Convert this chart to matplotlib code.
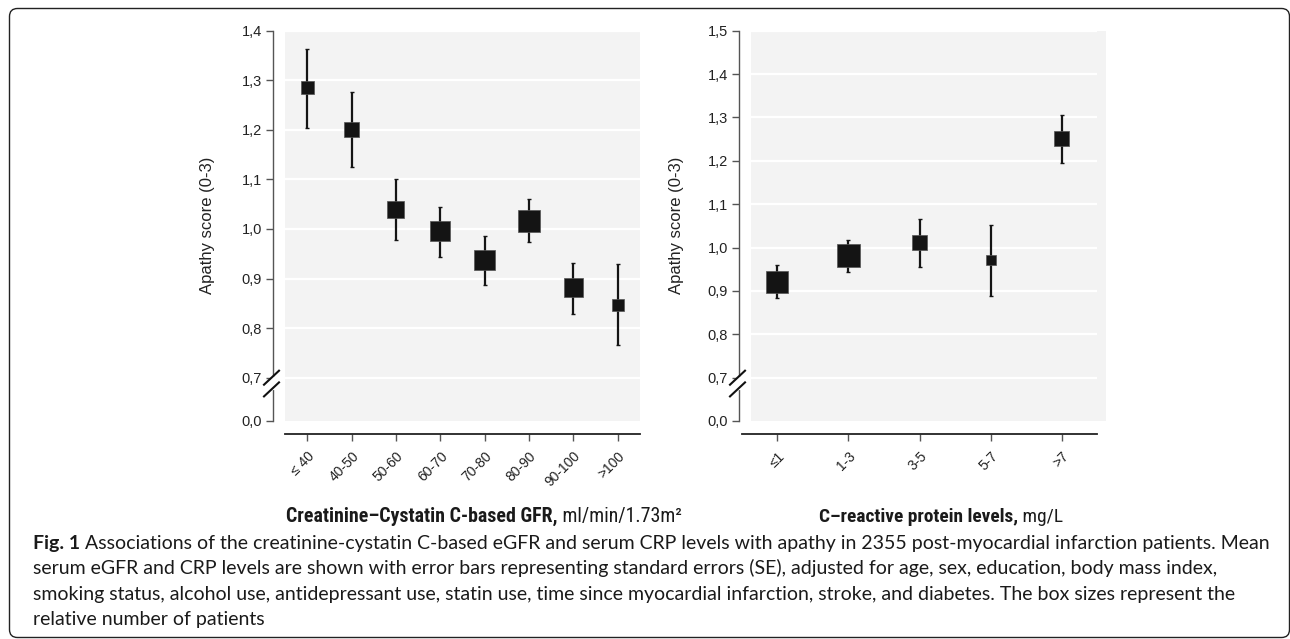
import numpy as np
import matplotlib
matplotlib.use('Agg')
import matplotlib.pyplot as plt
from matplotlib import font_manager as fm
from matplotlib.patches import FancyBboxPatch
from matplotlib.lines import Line2D
from matplotlib.transforms import IdentityTransform

# ---------------- data ----------------
gfr_labels = ['≤ 40', '40-50', '50-60', '60-70', '70-80', '80-90', '90-100', '>100']
gfr_mean = [1.285, 1.200, 1.039, 0.995, 0.937, 1.016, 0.882, 0.847]
gfr_upper = [1.363, 1.277, 1.101, 1.045, 0.986, 1.061, 0.931, 0.929]
gfr_lower = [1.203, 1.125, 0.977, 0.944, 0.887, 0.973, 0.828, 0.766]
gfr_boxsize = [13.0, 15.0, 17.0, 20.0, 20.5, 22.5, 19.5, 12.5]   # relative number of patients

crp_labels = ['≤1', '1-3', '3-5', '5-7', '>7']
crp_mean = [0.921, 0.982, 1.012, 0.971, 1.252]
crp_upper = [0.959, 1.017, 1.066, 1.051, 1.305]
crp_lower = [0.883, 0.944, 0.955, 0.888, 1.194]
crp_boxsize = [22.0, 22.5, 14.5, 10.0, 15.0]

gfr_yticks = [0.0, 0.7, 0.8, 0.9, 1.0, 1.1, 1.2, 1.3, 1.4]
crp_yticks = [0.0, 0.7, 0.8, 0.9, 1.0, 1.1, 1.2, 1.3, 1.4, 1.5]

ylabel_text = 'Apathy score (0-3)'
gfr_title = ('Creatinine–Cystatin C-based GFR,', ' ml/min/1.73m²')
crp_title = ('C–reactive protein levels,', ' mg/L')
caption_bold = 'Fig. 1'
caption_lines = [
    ' Associations of the creatinine-cystatin C-based eGFR and serum CRP levels with apathy in 2355 post-myocardial infarction patients. Mean',
    'serum eGFR and CRP levels are shown with error bars representing standard errors (SE), adjusted for age, sex, education, body mass index,',
    'smoking status, alcohol use, antidepressant use, statin use, time since myocardial infarction, stroke, and diabetes. The box sizes represent the',
    'relative number of patients',
]

# ---------------- fonts ----------------
names = {f.name for f in fm.fontManager.ttflist}
base_font = 'Liberation Sans' if 'Liberation Sans' in names else 'DejaVu Sans'
cond_font = next((n for n in ['Liberation Sans Narrow', 'Roboto Condensed', 'Open Sans Condensed',
                              'Noto Sans Condensed', 'DejaVu Sans Condensed'] if n in names), base_font)
cap_font = 'Lato' if 'Lato' in names else base_font
plt.rcParams['font.family'] = [base_font, 'DejaVu Sans']

W, H = 1290, 639
fig = plt.figure(figsize=(W / 100, H / 100), dpi=100)
fig.patch.set_facecolor('white')

def px_axes(x0, x1, ytop, ybot):
    return fig.add_axes([x0 / W, 1 - ybot / H, (x1 - x0) / W, (ybot - ytop) / H])

GAP_PX = 43.0
AX_TOP, AX_BOT = 30.7, 420.7

def broken_scale(top, low=0.0, brk=0.7):
    span_px = AX_BOT - AX_TOP
    s = (span_px - GAP_PX) / (top - brk)
    k = (GAP_PX / s) / (brk - low)
    def fwd(y):
        y = np.asarray(y, float)
        return np.where(y >= brk, y, brk - (brk - y) * k)
    def inv(z):
        z = np.asarray(z, float)
        return np.where(z >= brk, z, brk - (brk - z) / k)
    return fwd, inv

def style_panel(ax, labels, mean, lower, upper, boxsize, yticks, xlim, spine_bounds, ylabel_x):
    n = len(labels)
    x = np.arange(n)
    top = yticks[-1]
    ax.set_yscale('function', functions=broken_scale(top))
    ax.set_ylim(0.0, top)
    ax.set_xlim(*xlim)
    ax.set_facecolor('#f3f3f3')
    for s in ['top', 'right']:
        ax.spines[s].set_visible(False)
    ax.spines['left'].set_position(('outward', 12 * 0.72))
    ax.spines['bottom'].set_position(('outward', 13 * 0.72))
    ax.spines['left'].set_color('#555555')
    ax.spines['left'].set_linewidth(1.0)
    ax.spines['bottom'].set_color('#222222')
    ax.spines['bottom'].set_linewidth(1.3)
    ax.spines['bottom'].set_bounds(*spine_bounds)

    ax.hlines(yticks[1:], spine_bounds[0], spine_bounds[1], colors='white', lw=1.6, zorder=1)

    mean = np.asarray(mean); lower = np.asarray(lower); upper = np.asarray(upper)
    ax.errorbar(x, mean, yerr=[mean - lower, upper - mean], fmt='none', ecolor='#141414',
                elinewidth=1.6, capsize=1.3, capthick=1.0, zorder=2)
    ax.scatter(x, mean, s=(np.asarray(boxsize) * 0.72) ** 2, marker='s', c='#141414',
               edgecolors='#555555', linewidths=0.5, zorder=3)

    ax.set_yticks(yticks)
    ax.set_yticklabels([f'{t:.1f}'.replace('.', ',') for t in yticks])
    ax.tick_params(axis='y', length=5, width=1, color='#555555', labelsize=10.5,
                   labelcolor='#222222', pad=3)
    ax.set_xticks(x)
    ax.set_xticklabels(labels)
    ax.tick_params(axis='x', length=5, width=1, color='#555555', labelsize=10,
                   labelcolor='#222222', pad=6)
    for lab in ax.get_xticklabels():
        lab.set_rotation(45)
        lab.set_ha('right')
        lab.set_va('top')
        lab.set_rotation_mode('anchor')
    ax.set_ylabel(ylabel_text, fontsize=12, color='#222222')
    ax.yaxis.label.set_va('center')
    ax.yaxis.set_label_coords(ylabel_x, 0.5)

    # axis break marks on the y spine
    x_sp = ax.transAxes.transform((0, 0))[0] - 12
    y07 = ax.transData.transform((0, 0.7))[1]
    dy = 11.7
    ax.add_artist(Line2D([x_sp, x_sp], [y07 - 1, y07 - dy + 1], color='white', lw=3,
                         transform=IdentityTransform(), clip_on=False, zorder=5))
    for off in (0.0, -dy):
        ax.add_artist(Line2D([x_sp - 9, x_sp + 6], [y07 + off - 7, y07 + off + 7],
                             color='#111111', lw=1.5, transform=IdentityTransform(),
                             clip_on=False, zorder=6))

axL = px_axes(285, 640, AX_TOP, AX_BOT)
axR = px_axes(751, 1106, AX_TOP, AX_BOT)
style_panel(axL, gfr_labels, gfr_mean, gfr_lower, gfr_upper, gfr_boxsize, gfr_yticks,
            (-0.5, 7.5), (-0.5, 7.5), -0.217)
style_panel(axR, crp_labels, crp_mean, crp_lower, crp_upper, crp_boxsize, crp_yticks,
            (-0.37, 4.62), (-0.5, 4.5), -0.211)

renderer = fig.canvas.get_renderer()

def pair(bold, normal, family, y_base_px, x_left, fs=None, target_w=None, base_fs=12):
    y = 1 - y_base_px / H
    t1 = fig.text(0, y, bold, family=[family, 'DejaVu Sans'], weight='bold', fontsize=base_fs,
                  va='baseline', ha='left', color='#1a1a1a')
    t2 = fig.text(0, y, normal, family=[family, 'DejaVu Sans'], fontsize=base_fs,
                  va='baseline', ha='left', color='#1a1a1a')
    if fs is None:
        w = t1.get_window_extent(renderer).width + t2.get_window_extent(renderer).width
        fs = base_fs * target_w / w
    t1.set_fontsize(fs); t2.set_fontsize(fs)
    w1 = t1.get_window_extent(renderer).width
    t1.set_position((x_left / W, y))
    t2.set_position(((x_left + w1) / W, y))
    return fs

pair(crp_title[0], crp_title[1], cond_font, 522, 819, target_w=245)
pair(gfr_title[0], gfr_title[1], cond_font, 522, 286, target_w=396)

cap_fs = pair(caption_bold, caption_lines[0], cap_font, 549, 33, target_w=1229)
for i, line in enumerate(caption_lines[1:], start=1):
    fig.text(33 / W, 1 - (549 + 25.3 * i) / H, line, family=[cap_font, 'DejaVu Sans'],
             fontsize=cap_fs, va='baseline', ha='left', color='#1a1a1a')

frame = FancyBboxPatch((9.5 / 100, (H - 637.5) / 100), (1289.5 - 9.5) / 100, (637.5 - 8.5) / 100,
                       boxstyle='round,pad=0,rounding_size=0.08', transform=fig.dpi_scale_trans,
                       fill=False, ec='#222222', lw=1.0)
fig.add_artist(frame)

fig.savefig('out.png', dpi=100, facecolor='white')
